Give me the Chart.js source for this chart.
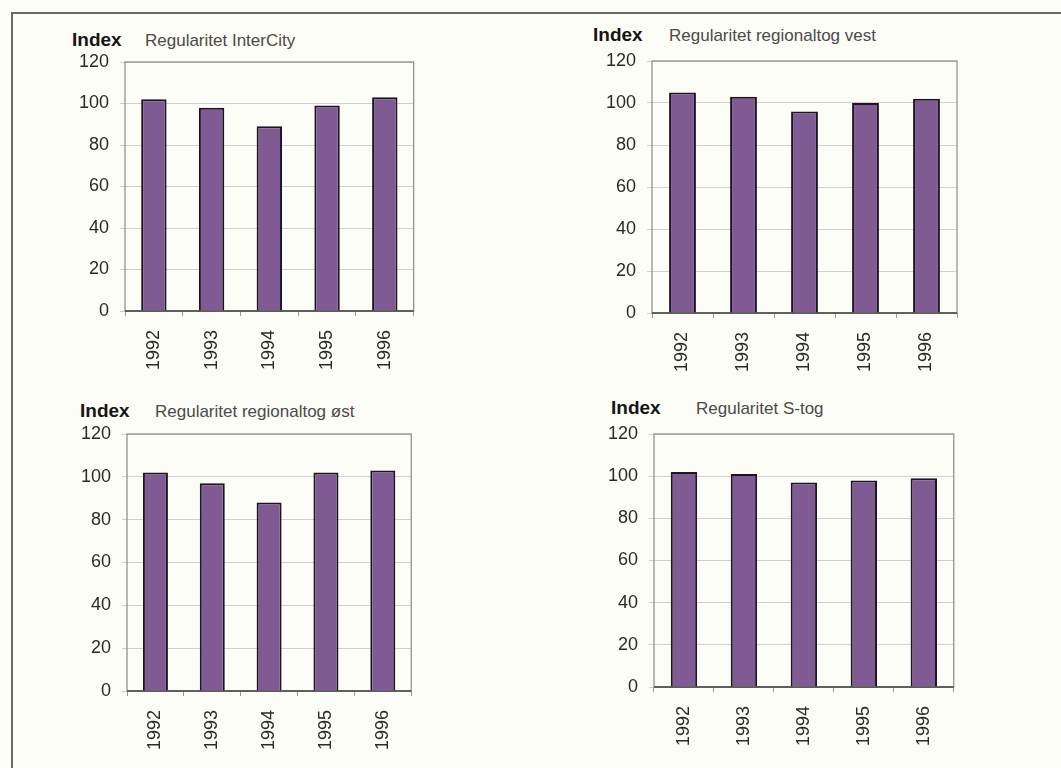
<!DOCTYPE html>
<html>
<head>
<meta charset="utf-8">
<script src="https://cdn.jsdelivr.net/npm/chart.js@4"></script>
<style>
  html, body { margin: 0; padding: 0; }
  body { width: 1061px; height: 768px; background: #fdfdf8; position: relative; overflow: hidden;
         font-family: "Liberation Sans", Arial, sans-serif; }
  .ramme { position: absolute; left: 11px; top: 12px; width: 1100px; height: 800px;
           border-top: 2px solid #6a6a6a; border-left: 2px solid #6a6a6a; }
  .panel { position: absolute; }
  .index { position: absolute; font-weight: bold; font-size: 19px; line-height: 19px; color: #151515; }
  .titel { position: absolute; font-size: 17px; line-height: 17px; color: #4a4a4a; }
</style>
</head>
<body>
<div class="ramme"></div>

<div class="index" style="left:72px;top:30px">Index</div>
<div class="titel" style="left:145px;top:32px">Regularitet InterCity</div>
<div class="panel" id="p1"><canvas id="c1"></canvas></div>

<div class="index" style="left:593px;top:25px">Index</div>
<div class="titel" style="left:669px;top:27px">Regularitet regionaltog vest</div>
<div class="panel" id="p2"><canvas id="c2"></canvas></div>

<div class="index" style="left:80px;top:401px">Index</div>
<div class="titel" style="left:155px;top:403px">Regularitet regionaltog øst</div>
<div class="panel" id="p3"><canvas id="c3"></canvas></div>

<div class="index" style="left:611px;top:398px">Index</div>
<div class="titel" style="left:696px;top:400px">Regularitet S-tog</div>
<div class="panel" id="p4"><canvas id="c4"></canvas></div>

<script>
// år og indeksværdier pr. togtype
const aar = ['1992', '1993', '1994', '1995', '1996'];
const interCity = [102, 98, 89, 99, 103];
const regionalVest = [105, 103, 96, 100, 102];
const regionalOest = [102, 97, 88, 102, 103];
const sTog = [102, 101, 97, 98, 99];
const yMin = 0, yMax = 120, yStep = 20;

// y-aksens bredde, x-aksens højde og luft over plottet
const AKSE_B = 60, AKSE_H = 70, TOP = 12, HOJRE = 6;

// tegner rammen rundt om plotområdet
const plotRamme = {
  id: 'plotRamme',
  beforeDatasetsDraw(chart) {
    const a = chart.chartArea, ctx = chart.ctx;
    ctx.save();
    ctx.strokeStyle = '#8a8a8a';
    ctx.lineWidth = 1.2;
    ctx.strokeRect(a.left, a.top, a.right - a.left, a.bottom - a.top);
    ctx.strokeStyle = '#444';
    ctx.lineWidth = 1.6;
    ctx.beginPath();
    ctx.moveTo(a.left, a.bottom);
    ctx.lineTo(a.right, a.bottom);
    ctx.stroke();
    ctx.restore();
  }
};

function lavGraf(id, boks, data) {
  const w = (boks.r - boks.l) + AKSE_B + HOJRE;
  const h = (boks.b - boks.t) + TOP + AKSE_H;
  const p = document.getElementById('p' + id);
  p.style.left = (boks.l - AKSE_B) + 'px';
  p.style.top = (boks.t - TOP) + 'px';
  p.style.width = w + 'px';
  p.style.height = h + 'px';

  new Chart(document.getElementById('c' + id), {
    type: 'bar',
    data: {
      labels: aar,
      datasets: [{
        data: data,
        backgroundColor: '#805b93',
        borderColor: '#1c1420',
        borderWidth: 2,
        barPercentage: 0.44,
        categoryPercentage: 1
      }]
    },
    options: {
      responsive: true,
      maintainAspectRatio: false,
      animation: false,
      layout: { padding: { top: TOP, right: HOJRE, left: 0, bottom: 0 } },
      plugins: { legend: { display: false }, tooltip: { enabled: false } },
      scales: {
        x: {
          grid: { drawOnChartArea: false, drawTicks: true, tickLength: 5, color: '#999' },
          border: { display: false },
          ticks: {
            color: '#2a2a2a',
            font: { family: '"Liberation Sans", Arial', size: 18 },
            minRotation: 90,
            maxRotation: 90,
            padding: 14
          },
          afterFit(scale) { scale.height = AKSE_H; }
        },
        y: {
          min: yMin,
          max: yMax,
          grid: { color: '#d0d0d0', lineWidth: 1, tickLength: 5 },
          border: { display: false },
          ticks: {
            stepSize: yStep,
            color: '#2a2a2a',
            font: { family: '"Liberation Sans", Arial', size: 18 },
            padding: 11
          },
          // fast bredde, og ingen ekstra luft over/under aksen
          afterFit(scale) {
            scale.width = AKSE_B;
            scale.paddingTop = 0;
            scale.paddingBottom = 0;
          }
        }
      }
    },
    plugins: [plotRamme]
  });
}

lavGraf(1, { l: 125, r: 415, t: 62, b: 311 }, interCity);
lavGraf(2, { l: 652, r: 957, t: 61, b: 313 }, regionalVest);
lavGraf(3, { l: 127, r: 413, t: 434, b: 691 }, regionalOest);
lavGraf(4, { l: 654, r: 954, t: 434, b: 687 }, sTog);
</script>
</body>
</html>
